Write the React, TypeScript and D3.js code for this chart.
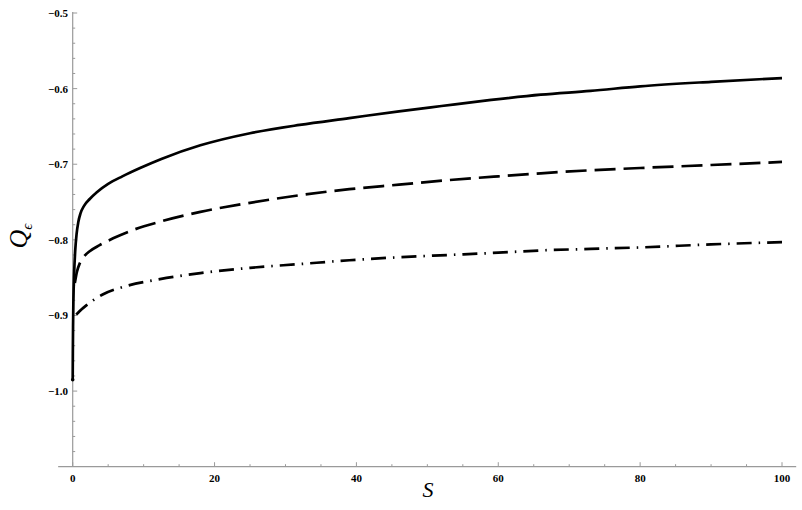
import React from "react";
import * as d3 from "d3";

const solidS = [0, 0.02, 0.05, 0.1, 0.2, 0.35, 0.55, 0.8, 1.1, 1.6, 2.4, 3.4, 5, 7, 9.5, 12.5, 18, 25, 32, 39, 46, 52, 59, 66, 73, 80, 90, 100];
const solidQ = [-0.985, -0.95, -0.915, -0.88, -0.845, -0.815, -0.792, -0.776, -0.765, -0.755, -0.746, -0.737, -0.726, -0.716, -0.705, -0.693, -0.675, -0.659, -0.648, -0.639, -0.63, -0.623, -0.615, -0.608, -0.603, -0.597, -0.591, -0.586];

const dashedS = [0.3, 0.6, 1, 1.6, 2.4, 3.8, 5.7, 8.5, 12.3, 18, 25, 32, 39, 46, 53, 60, 66, 73, 80, 90, 100];
const dashedQ = [-0.857, -0.842, -0.831, -0.822, -0.815, -0.807, -0.798, -0.787, -0.776, -0.763, -0.751, -0.741, -0.733, -0.727, -0.721, -0.716, -0.712, -0.708, -0.705, -0.701, -0.697];

const dashDotS = [0.5, 1, 2, 4.3, 7.6, 12.3, 18, 25, 32, 39, 46, 53, 60, 66, 73, 80, 90, 100];
const dashDotQ = [-0.899, -0.894, -0.886, -0.872, -0.861, -0.852, -0.844, -0.837, -0.832, -0.827, -0.823, -0.82, -0.817, -0.814, -0.812, -0.81, -0.806, -0.803];

const xMajorTicks = [0, 20, 40, 60, 80, 100];
const yMajorTicks = [-1.0, -0.9, -0.8, -0.7, -0.6, -0.5];
const yTickLabels = ["\u22121.0", "\u22120.9", "\u22120.8", "\u22120.7", "\u22120.6", "\u22120.5"];

const W = 802;
const H = 510;

export default function App() {
  const x = d3.scaleLinear().domain([0, 100]).range([72.7, 782]);
  const y = d3.scaleLinear().domain([-1.1, -0.5]).range([466.7, 13]);

  const line = d3
    .line<[number, number]>()
    .x((d) => x(d[0]))
    .y((d) => y(d[1]))
    .curve(d3.curveMonotoneX);

  const zip = (a: number[], b: number[]) => a.map((v, i) => [v, b[i]] as [number, number]);

  const xMinor = d3.range(5, 100, 5).filter((v) => v % 20 !== 0);
  const yMinor = d3.range(0, 31).map((i) => -1.1 + i * 0.02).filter((v) => Math.abs(Math.round(v * 10) - v * 10) > 0.01);

  const axisColor = "#9a9a9a";
  const x0 = x(0);
  const yAxisBottom = y(-1.1);

  return (
    <svg width={W} height={H} style={{ position: "absolute", left: 0, top: 0, display: "block", background: "#fff" }}>
      {/* axes */}
      <line x1={x(-2.05)} x2={x(102)} y1={yAxisBottom} y2={yAxisBottom} stroke={axisColor} strokeWidth={1.2} />
      <line x1={x0} x2={x0} y1={y(-0.5) - 1} y2={yAxisBottom} stroke={axisColor} strokeWidth={1.2} />
      {xMajorTicks.map((t) => (
        <g key={"xm" + t}>
          <line x1={x(t)} x2={x(t)} y1={yAxisBottom} y2={yAxisBottom - 4.5} stroke={axisColor} strokeWidth={1} />
          <text x={x(t)} y={482} textAnchor="middle" fontFamily="Liberation Serif, serif" fontWeight="bold" fontSize={11} fill="#000">
            {t}
          </text>
        </g>
      ))}
      {xMinor.map((t) => (
        <line key={"xn" + t} x1={x(t)} x2={x(t)} y1={yAxisBottom} y2={yAxisBottom - 2.5} stroke={axisColor} strokeWidth={1} />
      ))}
      {yMajorTicks.map((t, i) => (
        <g key={"ym" + t}>
          <line x1={x0} x2={x0 + 4.5} y1={y(t)} y2={y(t)} stroke={axisColor} strokeWidth={1} />
          <text x={68} y={y(t) + 4} textAnchor="end" fontFamily="Liberation Serif, serif" fontWeight="bold" fontSize={11} fill="#000">
            {yTickLabels[i]}
          </text>
        </g>
      ))}
      {yMinor.map((t, i) => (
        <line key={"yn" + i} x1={x0} x2={x0 + 2.5} y1={y(t)} y2={y(t)} stroke={axisColor} strokeWidth={1} />
      ))}

      {/* curves */}
      <path d={line(zip(solidS, solidQ)) || ""} fill="none" stroke="#000" strokeWidth={2.7} strokeLinejoin="round" />
      <path d={line(zip(dashedS, dashedQ)) || ""} fill="none" stroke="#000" strokeWidth={2.7} strokeDasharray="21,8" />
      <path d={line(zip(dashDotS, dashDotQ)) || ""} fill="none" stroke="#000" strokeWidth={2.7} strokeDasharray="15,7,1.5,7" />
      <circle cx={x(0)} cy={y(-0.985)} r={1.8} fill="#000" />

      {/* axis labels */}
      <text x={428} y={497} textAnchor="middle" fontFamily="Liberation Serif, serif" fontStyle="italic" fontSize={22} fill="#000">
        S
      </text>
      <g transform="translate(27,236) rotate(-90)">
        <text x={0} y={0} textAnchor="middle" fontFamily="Liberation Serif, serif" fontStyle="italic" fontSize={26} fill="#000">
          Q<tspan fontSize={15} dy={5}>ϵ</tspan>
        </text>
      </g>
    </svg>
  );
}
